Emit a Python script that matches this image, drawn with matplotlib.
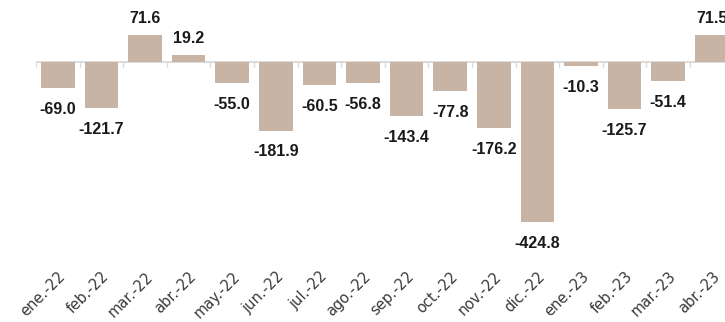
import matplotlib
matplotlib.use('Agg')
import matplotlib.pyplot as plt
import numpy as np

months = ['ene.-22', 'feb.-22', 'mar.-22', 'abr.-22', 'may.-22', 'jun.-22',
          'jul.-22', 'ago.-22', 'sep.-22', 'oct.-22', 'nov.-22', 'dic.-22',
          'ene.-23', 'feb.-23', 'mar.-23', 'abr.-23']
values = [-69.0, -121.7, 71.6, 19.2, -55.0, -181.9, -60.5, -56.8, -143.4,
          -77.8, -176.2, -424.8, -10.3, -125.7, -51.4, 71.5]

W, H = 725, 322
fig = plt.figure(figsize=(W / 100, H / 100), dpi=100)
ax_h_px = 262
ax = fig.add_axes([36 / W, (H - ax_h_px) / H, 697.6 / W, ax_h_px / H])

x = np.arange(len(values))
ax.bar(x, values, width=0.77, color='#c8b4a5', zorder=2)
ymin, ymax = -531.0, 164.6
ax.set_xlim(-0.5, len(values) - 0.5)
ax.set_ylim(ymin, ymax)

grid_col = '#d9d9d9'
ax.axhline(0, color=grid_col, lw=1.3, zorder=1)
units_per_px = (ymax - ymin) / ax_h_px
bounds = np.arange(len(values) + 1) - 0.5
ax.vlines(bounds, 0, -5 * units_per_px, color=grid_col, lw=1.0, zorder=1)

for i, v in enumerate(values):
    if v >= 0:
        ax.annotate(f'{v:.1f}', (i, v), xytext=(0, 6.5), textcoords='offset points',
                    ha='center', va='bottom', fontsize=11.5, fontweight='bold',
                    family='Liberation Sans', color='#1a1a1a', annotation_clip=False)
    else:
        ax.annotate(f'{v:.1f}', (i, v), xytext=(0, -10), textcoords='offset points',
                    ha='center', va='top', fontsize=11.5, fontweight='bold',
                    family='Liberation Sans', color='#1a1a1a', annotation_clip=False)

ax.set_xticks(x)
ax.set_xticklabels(months, rotation=45, ha='right', rotation_mode='anchor',
                   fontsize=10.5, color='#3a3a3a', family='DejaVu Sans')
ax.tick_params(axis='x', length=0, pad=5)
ax.set_yticks([])
for s in ax.spines.values():
    s.set_visible(False)

fig.savefig('out.png', dpi=100)
